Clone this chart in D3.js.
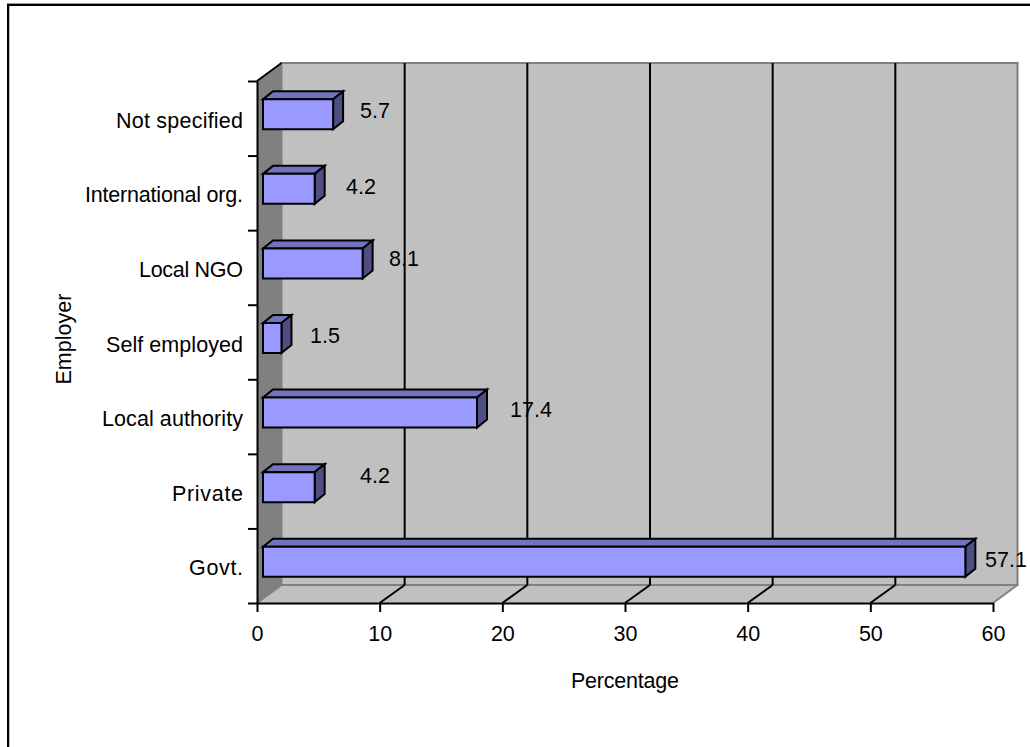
<!DOCTYPE html>
<html>
<head>
<meta charset="utf-8">
<script src="https://cdn.jsdelivr.net/npm/d3@7"></script>
<style>
  html, body { margin: 0; padding: 0; background: #fff; }
  svg { display: block; }
  text { font-family: "Liberation Sans", Arial, sans-serif; fill: #000; }
</style>
</head>
<body>
<svg id="chart" width="1030" height="747"></svg>
<script>
// Employer categories, listed from the top of the chart down
const categories = ["Not specified", "International org.", "Local NGO", "Self employed", "Local authority", "Private", "Govt."];
const percentages = [5.7, 4.2, 8.1, 1.5, 17.4, 4.2, 57.1];
const valueTicks = [0, 10, 20, 30, 40, 50, 60];

// Hand placement of the value labels relative to the end of each bar
const labelShiftX = [41.9, 46.3, 41.4, 43.5, 54, 60.3, 40.7];
const labelShiftY = [-8, -6, -9, -7, -7, -15.6, -6];
// Set widths of the category labels
const categoryWidths = [127, 158, 104, 137, 141, 71, 54];

const FONT = 21.5;
const plot = { left: 257, right: 993, top: 81, bottom: 603 };
const depth = { x: 24.5, y: 18 };       // wall and floor offset
const barDepth = { x: 10, y: 8 };       // extrusion of each bar
const BAR_HEIGHT = 30;

const colors = {
  wall: "#c0c0c0", side: "#808080", edge: "#808080", ink: "#000",
  front: "#9999ff", top: "#7272bf", end: "#4e4e85"
};

const svg = d3.select("#chart");

const x = d3.scaleLinear().domain([0, 60]).range([plot.left, plot.right]);
// Bars sit slightly inside the box, so they have their own horizontal scale
const xBar = d3.scaleLinear().domain([0, 60]).range([263, 1001]);
const yEdge = d3.scaleLinear().domain([0, categories.length]).range([plot.top, plot.bottom]);
const yBand = i => yEdge(i + 0.5);

const poly = (g, pts, fill, stroke, width) => g.append("polygon")
  .attr("points", pts.map(p => p.join(",")).join(" "))
  .attr("fill", fill).attr("stroke", stroke || "none").attr("stroke-width", width || 0)
  .attr("stroke-linejoin", "miter");

const line = (g, x1, y1, x2, y2, stroke, width) => g.append("line")
  .attr("x1", x1).attr("y1", y1).attr("x2", x2).attr("y2", y2)
  .attr("stroke", stroke).attr("stroke-width", width);

// Frame: only the top and left edges of the chart area are drawn
line(svg, 7, 3.5, 1030, 3.5, "#999", 1);
line(svg, 7, 5, 1030, 5, colors.ink, 2);
line(svg, 8, 4, 8, 747, colors.ink, 2);
line(svg, 9.5, 6, 9.5, 747, "#bbb", 1);

// Box: back wall, left wall, floor
const backL = plot.left + depth.x, backR = plot.right + depth.x;
const backT = plot.top - depth.y, backB = plot.bottom - depth.y;

const box = svg.append("g");
poly(box, [[backL, backT], [backR, backT], [backR, backB], [backL, backB]], colors.wall);
poly(box, [[plot.left, plot.top], [backL, backT], [backL, backB], [plot.left, plot.bottom]], colors.side);
poly(box, [[plot.left, plot.bottom], [backL, backB], [backR, backB], [plot.right, plot.bottom]], colors.wall);

line(box, backL, backT, backL, backB, colors.edge, 2);
line(box, backL - 1, backT, backR + 1, backT, colors.edge, 2);
line(box, backR, backT, backR, backB, colors.edge, 2);
line(box, backL, backB, backR + 1, backB, colors.edge, 2);
line(box, plot.left, plot.bottom, backL, backB, colors.edge, 2);
line(box, plot.right, plot.bottom, backR, backB, colors.edge, 2);
line(box, plot.left, plot.top, backL, backT, colors.ink, 2);

// Gridlines climb the back wall and run across the floor to the axis
const grid = svg.append("g");
valueTicks.slice(1, -1).forEach(t => {
  const xf = x(t), xb = xf + depth.x + 0.5;
  line(grid, xb, backT, xb, backB, colors.ink, 2);
  line(grid, xf, plot.bottom, xb, backB, colors.ink, 2);
});

// Bars, each with an end cap and a top face
const bars = svg.append("g");
percentages.forEach((v, i) => {
  const x0 = xBar(0), x1 = xBar(v);
  const y0 = yBand(i) - 19, y1 = y0 + BAR_HEIGHT;
  const dx = barDepth.x, dy = barDepth.y;
  poly(bars, [[x0, y0], [x0 + dx, y0 - dy], [x1 + dx, y0 - dy], [x1, y0]], colors.top, colors.ink, 2);
  poly(bars, [[x1, y0], [x1 + dx, y0 - dy], [x1 + dx, y1 - dy], [x1, y1]], colors.end, colors.ink, 2);
  poly(bars, [[x0, y0], [x1, y0], [x1, y1], [x0, y1]], colors.front, colors.ink, 2);
});

// Axes
const xAxis = svg.append("g")
  .attr("transform", `translate(0,${plot.bottom})`)
  .call(d3.axisBottom(x).tickValues(valueTicks).tickSize(9).tickPadding(14).tickSizeOuter(0));
const yAxis = svg.append("g")
  .attr("transform", `translate(${plot.left},0)`)
  .call(d3.axisLeft(yEdge).tickValues(d3.range(categories.length + 1)).tickSize(9).tickFormat("").tickSizeOuter(0));
[xAxis, yAxis].forEach(a => {
  a.selectAll("path, line").attr("stroke", colors.ink).attr("stroke-width", 2);
  a.attr("font-family", null).attr("font-size", null);
});
xAxis.selectAll("text").attr("font-size", FONT);

// Category labels
svg.append("g").selectAll("text").data(categories).join("text")
  .attr("x", 243).attr("y", (d, i) => yBand(i) + 2)
  .attr("dy", "0.35em").attr("text-anchor", "end").attr("font-size", FONT)
  .attr("textLength", (d, i) => categoryWidths[i]).attr("lengthAdjust", "spacing")
  .text(d => d);

// Value labels
svg.append("g").selectAll("text").data(percentages).join("text")
  .attr("x", (d, i) => xBar(d) + labelShiftX[i])
  .attr("y", (d, i) => yBand(i) + labelShiftY[i])
  .attr("dy", "0.35em").attr("text-anchor", "middle").attr("font-size", FONT)
  .text(d => d);

// Axis titles
svg.append("text").attr("x", 625).attr("y", 688).attr("text-anchor", "middle")
  .attr("font-size", FONT).attr("textLength", 108).text("Percentage");
svg.append("text").attr("transform", "translate(71,339) rotate(-90)").attr("text-anchor", "middle")
  .attr("font-size", FONT).attr("textLength", 91).text("Employer");
</script>
</body>
</html>
